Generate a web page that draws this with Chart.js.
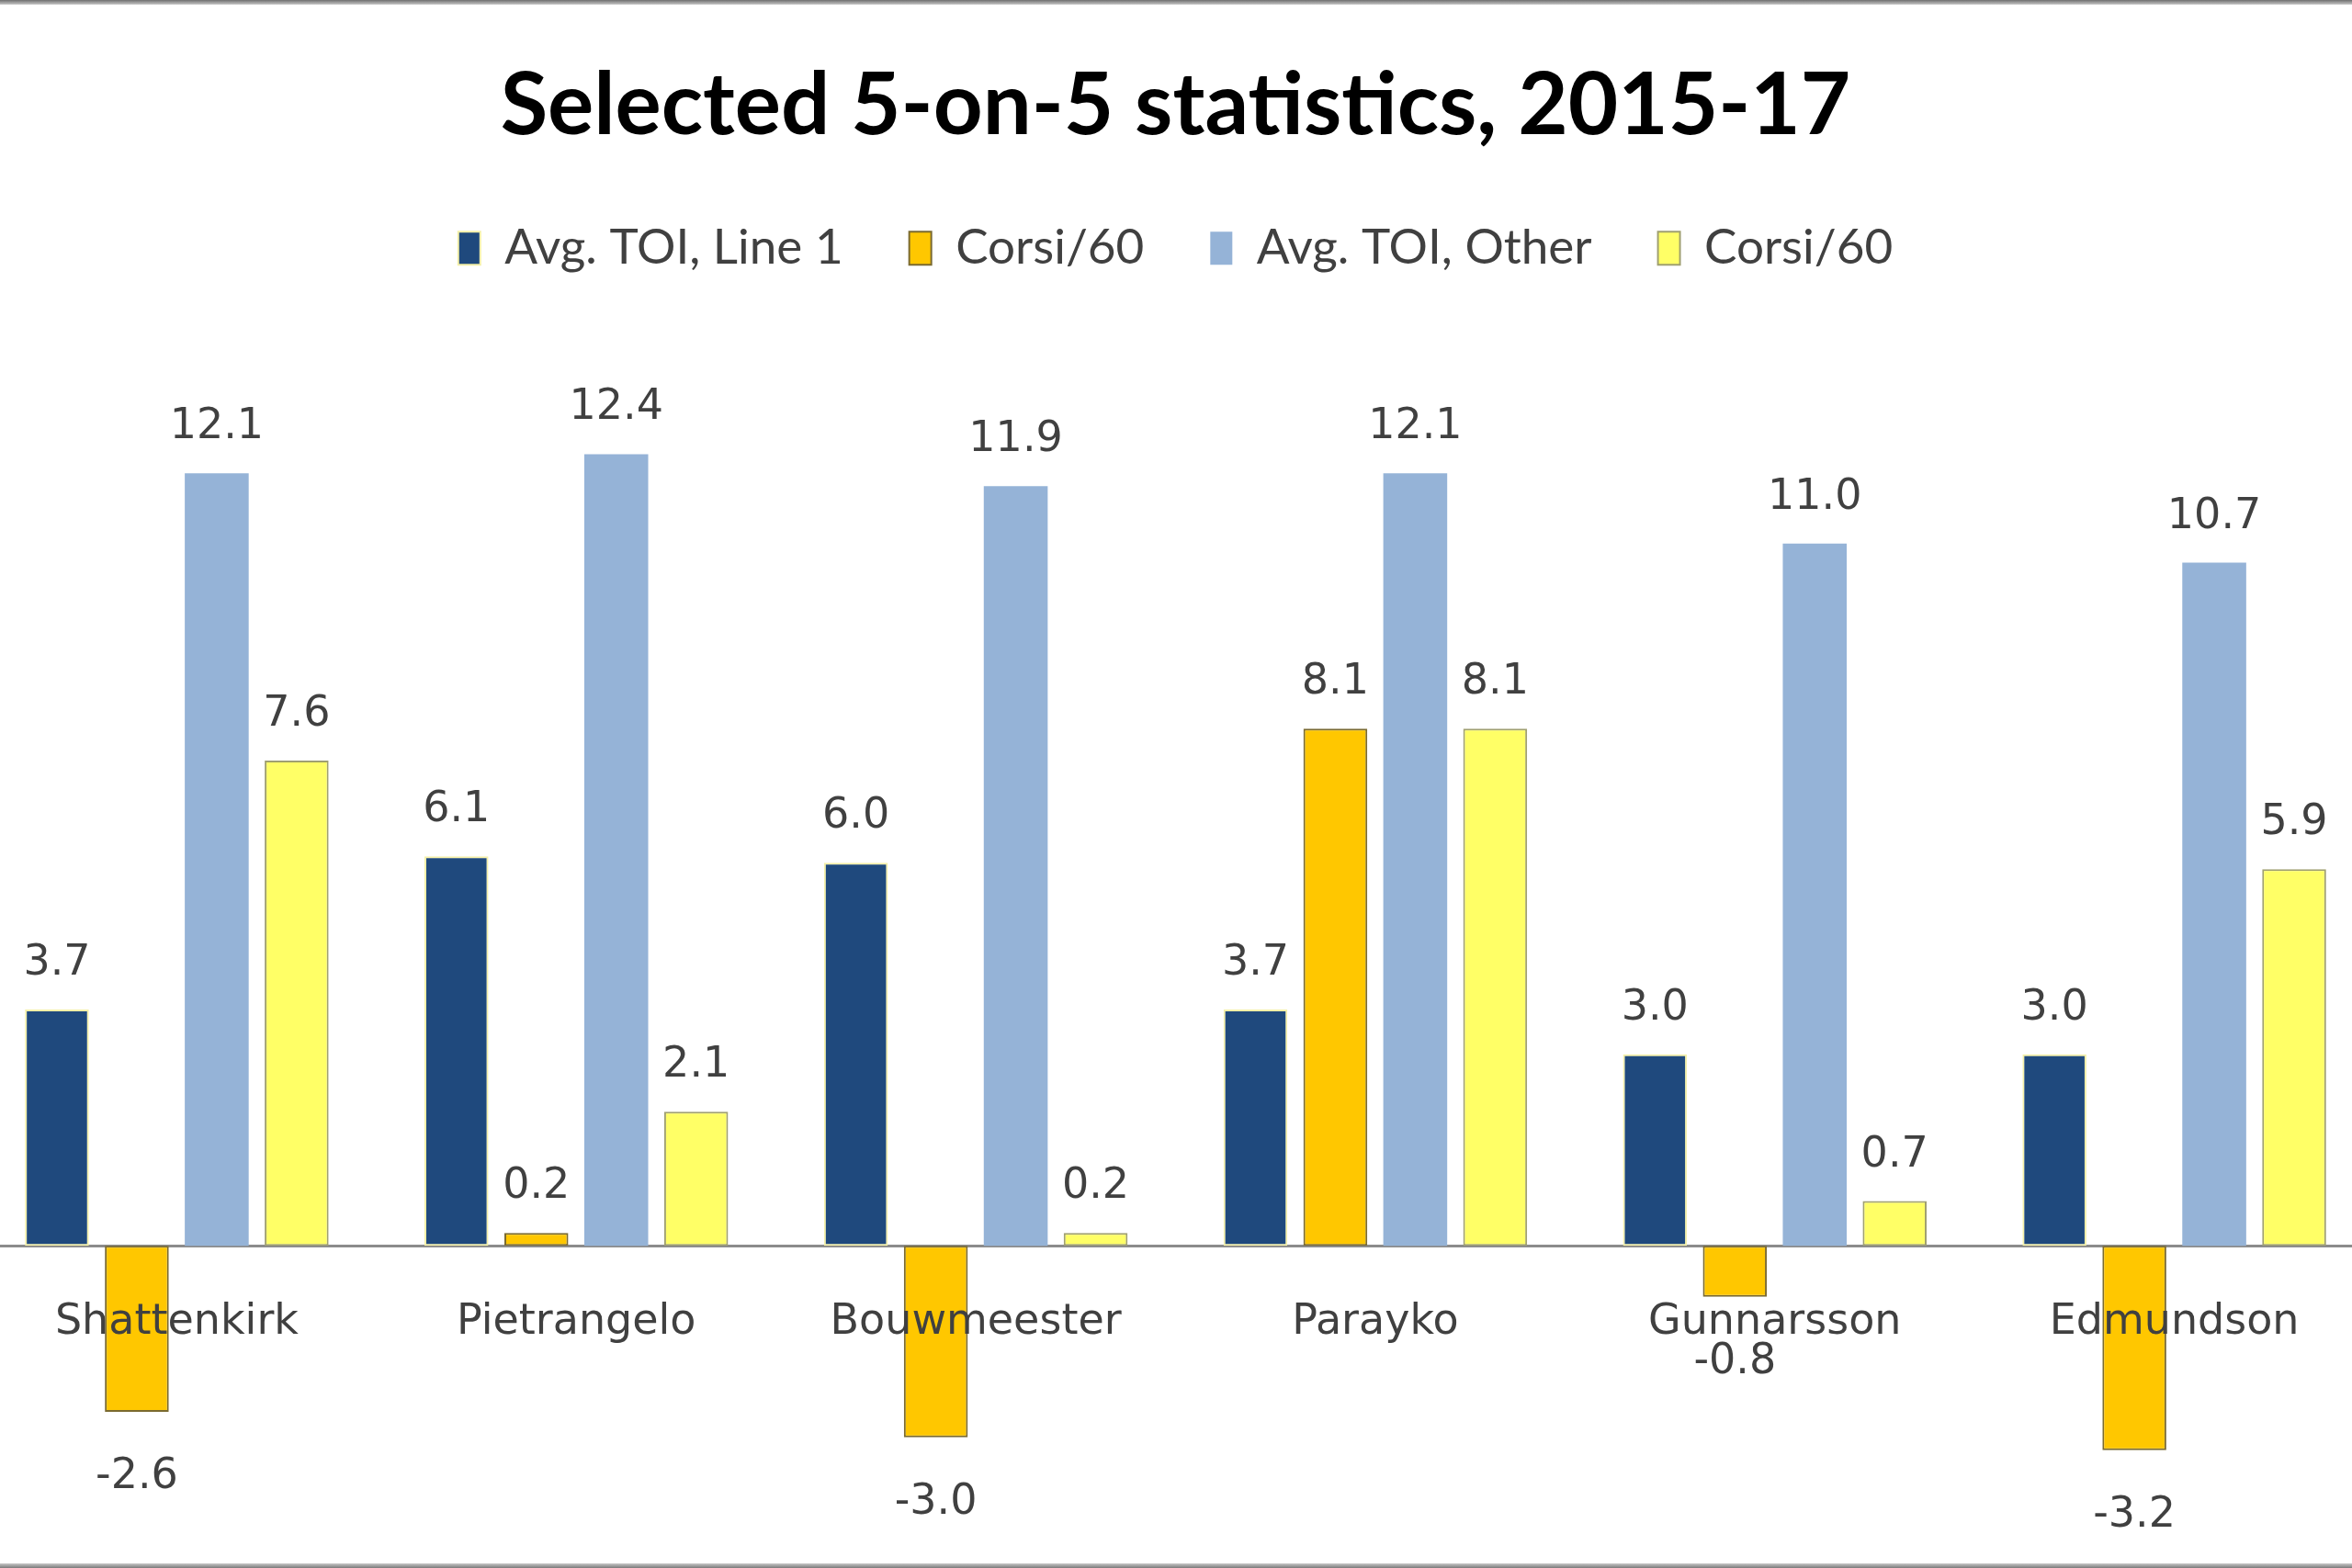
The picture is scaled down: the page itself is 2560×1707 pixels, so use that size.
<!DOCTYPE html>
<html>
<head>
<meta charset="utf-8">
<script src="https://cdn.jsdelivr.net/npm/chart.js@4/dist/chart.umd.min.js"></script>
<style>
    html, body { margin: 0; padding: 0; background: #fff; overflow: hidden; }
    body { width: 2560px; height: 1707px; position: relative; }
    #wrap { position: absolute; left: -25px; top: 0; width: 2609px; height: 1707px; }
    .edge { position: absolute; left: 0; width: 2560px; }
    #edgeTop { top: 0; height: 5px; background: linear-gradient(#6f6f6f, #c8c8c8); }
    #edgeBottom { bottom: 0; height: 5px; background: linear-gradient(#c8c8c8, #7a7a7a); }
</style>
</head>
<body>
<div id="wrap"><canvas id="statsChart"></canvas></div>
<div class="edge" id="edgeTop"></div>
<div class="edge" id="edgeBottom"></div>
<script>
// players and series
const players = ['Shattenkirk', 'Pietrangelo', 'Bouwmeester', 'Parayko', 'Gunnarsson', 'Edmundson'];
const seriesNames = ['Avg. TOI, Line 1', 'Corsi/60', 'Avg. TOI, Other', 'Corsi/60'];
const toiLine1 = [3.7, 6.1, 6.0, 3.7, 3.0, 3.0];
const corsiLine1 = [-2.6, 0.2, -3.0, 8.1, -0.8, -3.2];
const toiOther = [12.1, 12.4, 11.9, 12.1, 11.0, 10.7];
const corsiOther = [7.6, 2.1, 0.2, 8.1, 0.7, 5.9];

const labelFont = '"DejaVu Sans", Verdana, sans-serif';
const textGrey = '#404040';

Chart.defaults.animation = false;
Chart.defaults.font.family = labelFont;
Chart.defaults.color = textGrey;

// value labels above / below each bar
const barValues = {
    id: 'barValues',
    afterDatasetsDraw(chart) {
        const ctx = chart.ctx;
        ctx.save();
        ctx.font = '46px ' + labelFont;
        ctx.fillStyle = textGrey;
        ctx.textAlign = 'center';
        ctx.textBaseline = 'alphabetic';
        chart.data.datasets.forEach((ds, i) => {
            const meta = chart.getDatasetMeta(i);
            meta.data.forEach((bar, j) => {
                const v = ds.data[j];
                const y = v >= 0 ? bar.y - 38 : bar.y + 83;
                ctx.fillText(v.toFixed(1), bar.x, y);
            });
        });
        ctx.restore();
    }
};

function makeSet(label, data, fill, border, width) {
    return {
        label: label,
        data: data,
        backgroundColor: fill,
        borderColor: border,
        borderWidth: width,
        borderSkipped: false,
        categoryPercentage: 0.8,
        barPercentage: 0.8
    };
}

new Chart(document.getElementById('statsChart'), {
    type: 'bar',
    data: {
        labels: players,
        datasets: [
            makeSet(seriesNames[0], toiLine1, '#1F497D', '#F4F0A8', 2),
            makeSet(seriesNames[1], corsiLine1, '#FFC700', '#7A6A30', 2),
            makeSet(seriesNames[2], toiOther, '#95B3D7', '#95B3D7', 0),
            makeSet(seriesNames[3], corsiOther, '#FFFF66', '#A0A070', 2)
        ]
    },
    options: {
        responsive: true,
        maintainAspectRatio: false,
        layout: { padding: { top: 0, bottom: 38, left: 0, right: 0 } },
        plugins: {
            title: {
                display: true,
                text: 'Selected 5-on-5 statistics, 2015-17',
                color: '#000',
                font: { family: 'Lato, sans-serif', size: 94, weight: 'bold', lineHeight: 1.2 },
                padding: { top: 59, bottom: 0 }
            },
            legend: {
                position: 'top',
                labels: {
                    color: textGrey,
                    font: { family: 'Lato, sans-serif', size: 53 },
                    boxWidth: 24,
                    boxHeight: 36,
                    padding: 72
                }
            },
            tooltip: { enabled: false }
        },
        scales: {
            x: {
                position: { y: 0 },
                grid: { display: false, drawTicks: false },
                border: { display: true, color: '#8c8c8c', width: 3 },
                ticks: { z: 1, font: { size: 46 }, color: textGrey, padding: 56, maxRotation: 0 }
            },
            y: {
                display: false,
                min: -4.5,
                max: 15.1
            }
        }
    },
    plugins: [barValues]
});
</script>
</body>
</html>
